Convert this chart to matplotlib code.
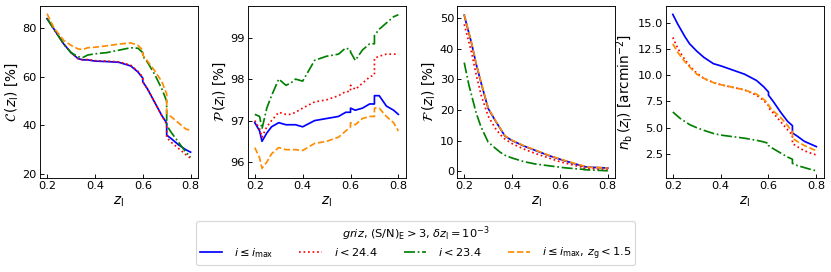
import matplotlib
matplotlib.use("Agg")
import matplotlib.pyplot as plt

z = [0.20, 0.22, 0.23, 0.25, 0.27, 0.30, 0.33, 0.35, 0.37, 0.40, 0.45, 0.50, 0.55,
     0.58, 0.60, 0.60, 0.62, 0.65, 0.68, 0.70, 0.70, 0.72, 0.75, 0.78, 0.80]

C_blue = [84, 81, 79.5, 76.5, 73.5, 70, 67.5, 67, 67, 66.5, 66.3, 66, 64.5, 62, 59.5, 58,
          55, 49.5, 44, 41, 36, 34.5, 32, 30, 29]
C_red = [84, 81, 79.5, 76.5, 73.5, 70, 67.5, 67, 67.2, 66.7, 66.5, 66.2, 64.8, 62.3, 59.8, 58,
         55, 49.5, 44, 40.5, 35, 33, 30.5, 28, 26.5]
C_green = [84, 81, 79.5, 76.5, 73.5, 70, 68.3, 68, 69, 69.5, 70, 71, 72, 71.8, 70, 68.5,
           66, 61, 55, 50, 40, 37, 33, 29, 27]
C_orange = [86, 82, 80, 77.5, 75, 73, 71.5, 71.3, 72, 72.2, 72.8, 73.5, 74, 73, 71, 69,
            66.5, 62.5, 58, 53, 45, 43.5, 41, 38.5, 38]

P_blue = [96.95, 96.75, 96.5, 96.7, 96.85, 96.95, 96.9, 96.9, 96.9, 96.85, 97.0, 97.05, 97.1,
          97.2, 97.2, 97.3, 97.25, 97.3, 97.4, 97.4, 97.6, 97.6, 97.35, 97.25, 97.15]
P_red = [97.0, 96.8, 96.6, 96.85, 97.0, 97.2, 97.15, 97.15, 97.2, 97.3, 97.45, 97.5, 97.6,
         97.7, 97.7, 97.85, 97.75, 97.9, 98.05, 98.1, 98.5, 98.55, 98.6, 98.6, 98.6]
P_green = [97.15, 97.1, 96.8, 97.3, 97.6, 98.0, 97.85, 97.9, 98.0, 97.95, 98.45, 98.55, 98.6,
           98.75, 98.7, 98.65, 98.45, 98.7, 98.85, 98.85, 99.05, 99.2, 99.35, 99.5, 99.55]
P_orange = [96.35, 96.1, 95.85, 96.0, 96.2, 96.35, 96.3, 96.3, 96.3, 96.28, 96.45, 96.5, 96.6,
            96.75, 96.85, 96.95, 96.9, 97.05, 97.1, 97.1, 97.3, 97.3, 97.1, 96.95, 96.75]

F_blue = [51, 45, 42, 35, 29, 20.5, 16.5, 14, 11.5, 10, 8.2, 6.7, 5.2, 4.4, 3.9, 3.9, 3.4,
          2.7, 2.0, 1.6, 1.5, 1.3, 1.2, 1.1, 1.0]
F_red = [48, 42, 39, 31.5, 25, 18, 14, 12, 10.5, 9, 7.2, 5.7, 4.4, 3.6, 3.1, 3.1, 2.7,
         2.1, 1.5, 1.2, 1.0, 0.9, 0.7, 0.6, 0.5]
F_green = [35.5, 28, 25, 19, 14.5, 9.5, 7.5, 6.2, 5.2, 4.3, 3.1, 2.3, 1.8, 1.5, 1.3, 1.3, 1.1,
           0.9, 0.7, 0.6, 0.5, 0.4, 0.3, 0.2, 0.1]
F_orange = [51.2, 45.2, 42.2, 35.2, 29.2, 20.7, 16.6, 14.1, 11.6, 10.1, 8.3, 6.8, 5.3, 4.5,
            4.0, 4.0, 3.5, 2.8, 2.1, 1.7, 1.5, 1.3, 1.2, 1.1, 1.0]

N_blue = [15.8, 14.9, 14.5, 13.7, 13.0, 12.3, 11.7, 11.4, 11.1, 10.9, 10.5, 10.1, 9.5, 8.9,
          8.4, 8.1, 7.5, 6.5, 5.6, 5.2, 4.5, 4.2, 3.7, 3.4, 3.2]
N_red = [13.6, 12.6, 12.2, 11.5, 10.9, 10.2, 9.7, 9.5, 9.3, 9.1, 8.85, 8.6, 8.1, 7.6, 7.1,
         6.9, 6.4, 5.6, 4.8, 4.3, 3.5, 3.2, 2.8, 2.55, 2.4]
N_green = [6.5, 6.1, 5.9, 5.6, 5.3, 5.0, 4.75, 4.6, 4.45, 4.3, 4.15, 4.0, 3.8, 3.65, 3.5,
           3.3, 3.0, 2.6, 2.2, 2.0, 1.6, 1.4, 1.2, 1.0, 0.9]
N_orange = [13.0, 12.2, 11.9, 11.3, 10.8, 10.1, 9.7, 9.5, 9.3, 9.1, 8.85, 8.6, 8.2, 7.7, 7.3,
            7.1, 6.6, 6.0, 5.2, 4.6, 4.0, 3.7, 3.3, 3.0, 2.8]

labels = [r"$i \leq i_\mathrm{max}$", r"$i < 24.4$", r"$i < 23.4$",
          r"$i \leq i_\mathrm{max}$, $z_\mathrm{g} < 1.5$"]
colors = ["blue", "red", "green", "darkorange"]
styles = ["-", ":", "-.", "--"]

panels = [
    ([C_blue, C_red, C_green, C_orange], r"$\mathcal{C}\,(z_\mathrm{l})$ [%]", (18.4, 89.2), [20, 40, 60, 80]),
    ([P_blue, P_red, P_green, P_orange], r"$\mathcal{P}\,(z_\mathrm{l})$ [%]", (95.62, 99.76), [96, 97, 98, 99]),
    ([F_blue, F_red, F_green, F_orange], r"$\mathcal{F}\,(z_\mathrm{l})$ [%]", (-2.2, 54), [0, 10, 20, 30, 40, 50]),
    ([N_blue, N_red, N_green, N_orange], r"$n_\mathrm{b}\,(z_\mathrm{l})$ [arcmin$^{-2}$]", (0.22, 16.6),
     [2.5, 5.0, 7.5, 10.0, 12.5, 15.0]),
]

DPI = 82
plt.rcParams["font.size"] = 10
fig = plt.figure(figsize=(831 / DPI, 272 / DPI), dpi=DPI)
lefts = [0.048, 0.298, 0.550, 0.801]
handles = None
for left, (series, ylab, ylim, yt) in zip(lefts, panels):
    ax = fig.add_axes([left, 0.346, 0.190, 0.632])
    hs = []
    for s, c, ls, lab in zip(series, colors, styles, labels):
        h, = ax.plot(z, s, color=c, ls=ls, lw=1.5, label=lab)
        hs.append(h)
    handles = hs
    ax.set_ylim(*ylim)
    ax.set_xlim(0.17, 0.83)
    ax.set_xticks([0.2, 0.4, 0.6, 0.8])
    ax.set_yticks(yt)
    ax.tick_params(direction="in", labelsize=10, pad=2.5)
    ax.set_ylabel(ylab, fontsize=12, labelpad=2)
    ax.set_xlabel(r"$z_\mathrm{l}$", fontsize=12, labelpad=3)

fig.legend(handles, labels, loc="lower center", bbox_to_anchor=(0.5, 0.025), ncol=4,
           title=r"$griz$, $\mathrm{(S/N)_E} > 3$, $\delta z_\mathrm{l} = 10^{-3}$",
           fontsize=10, title_fontsize=10, columnspacing=2.3, borderaxespad=0.0,
           borderpad=0.3, labelspacing=0.2, handletextpad=1.0)

fig.savefig("out.png", dpi=DPI)
